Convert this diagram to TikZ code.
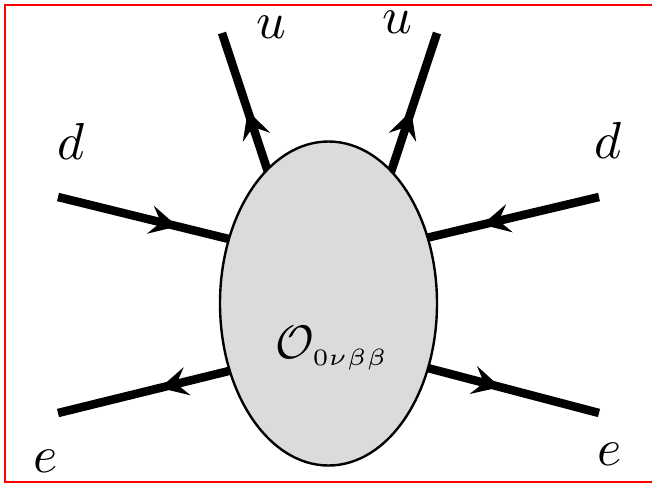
\documentclass[tikz,border=0pt]{standalone}
\usetikzlibrary{arrows.meta,decorations.markings,shapes.geometric}
\begin{document}
\begin{tikzpicture}[x=1pt,y=-1pt,
  fermion/.style={line width=8.5pt,line cap=butt,postaction={decorate,decoration={markings,
     mark=at position #1 with {\arrow{Stealth[length=28pt,width=29pt,inset=11pt,line width=0pt]}}}}},
  lbl/.style={anchor=base,inner sep=0pt},
  blobstyle/.style={ellipse,draw,line width=2.4pt,fill=black!14,minimum width=217pt,minimum height=324pt,inner sep=0pt}]
\useasboundingbox (0,0) rectangle (652,483);
\draw[red,line width=2pt] (652,4.5) -- (4.5,4.5) -- (4.5,481.5) -- (652,481.5);
% coordinates
\coordinate (uLi) at (270,178); \coordinate (uLo) at (222,33);
\coordinate (uRi) at (389,178); \coordinate (uRo) at (437,33);
\coordinate (dLo) at (58,197);  \coordinate (dLi) at (237,241);
\coordinate (dRo) at (599,197); \coordinate (dRi) at (422,239);
\coordinate (eLi) at (237,369); \coordinate (eLo) at (58,413);
\coordinate (eRi) at (422,366.5); \coordinate (eRo) at (599,413);
% lines
\draw[fermion=-82pt] (uLi) -- (uLo);
\draw[fermion=-82pt] (uRi) -- (uRo);
\draw[fermion=123pt] (dLo) -- (dLi);
\draw[fermion=120pt] (dRo) -- (dRi);
\draw[fermion=-105pt] (eLi) -- (eLo);
\draw[fermion=-102pt] (eRi) -- (eRo);
% blob
\node[blobstyle] (blob) at (328.5,303.5) {};
\node[anchor=base,inner sep=0pt] (op) at (332,358) {\scalebox{4.7}{$\mathcal{O}_{\scriptscriptstyle 0\nu\beta\beta}$}};
% labels
\node[lbl] (luL) at (271,38) {\scalebox{5.2}{$u$}};
\node[lbl] (luR) at (397,33) {\scalebox{5.2}{$u$}};
\node[lbl] (ldL) at (71,159) {\scalebox{5.2}{$d$}};
\node[lbl] (ldR) at (608,158) {\scalebox{5.2}{$d$}};
\node[lbl] (leL) at (46,472) {\scalebox{5.2}{$e$}};
\node[lbl] (leR) at (610,465) {\scalebox{5.2}{$e$}};
\end{tikzpicture}
\end{document}
